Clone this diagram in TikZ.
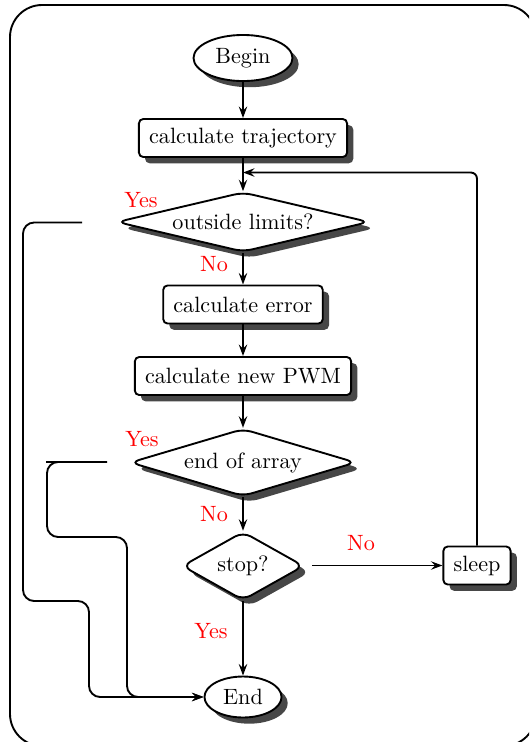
\documentclass[tikz,border=0pt]{standalone}
\usetikzlibrary{shapes.geometric,shadows,arrows.meta}
\begin{document}
\begin{tikzpicture}[x=0.4515pt,y=-0.4515pt,
  line width=0.85pt,
  >={Stealth[length=5.2pt,width=3.8pt,inset=1.9pt]},
  dropsh/.style={drop shadow={shadow xshift=2.8pt,shadow yshift=-2.8pt,fill=black!72,opacity=1}},
  terminal/.style={ellipse,draw,fill=white,dropsh,inner sep=0pt},
  process/.style={rectangle,draw,fill=white,rounded corners=2pt,dropsh,inner xsep=4.6pt,inner ysep=0pt,minimum height=17.2pt},
  decision/.style={diamond,draw,fill=white,rounded corners=4pt,dropsh,inner sep=0pt},
  flow/.style={->},
  answer/.style={text=red},
  elbow/.style={rounded corners=5pt}
]
\useasboundingbox (0,0) rectangle (529,742);
\clip (0,0) rectangle (529,742);

% outer frame
\draw[rounded corners=14.5pt] (10,5) rectangle (536,746);

% nodes
\node[terminal,minimum width=44.7pt,minimum height=20.8pt] (begin) at (243,58) {Begin};
\node[process] (traj) at (243,138) {calculate trajectory};
\node[decision,aspect=4.4,minimum width=114pt,minimum height=27pt] (outlim) at (243,222) {outside limits?};
\node[process] (calcerr) at (243,304.5) {calculate error};
\node[process] (pwm) at (243,376) {calculate new PWM};
\node[decision,aspect=3.4,minimum width=102pt,minimum height=30.5pt] (eoa) at (243,462.5) {end of array};
\node[decision,aspect=1.77,minimum width=55pt,minimum height=31pt] (stop) at (243,566) {stop?};
\node[process] (sleep) at (477,565.5) {sleep};
\node[terminal,minimum width=34.8pt,minimum height=18.5pt] (end) at (243,697) {End};

% branch labels
\node[answer] (limyes) at (141,200) {Yes};
\node[answer] (limno) at (214,264) {No};
\node[answer] (arryes) at (142,439) {Yes};
\node[answer] (arrno) at (214,514) {No};
\node[answer] (stopno) at (361,543) {No};
\node[answer] (stopyes) at (211,631) {Yes};

% main flow
\draw[flow] (begin) -- (traj);
\draw[flow] (traj) -- (outlim);
\draw[flow] (outlim) -- (calcerr);
\draw[flow] (calcerr) -- (pwm);
\draw[flow] (pwm) -- (eoa);
\draw[flow] (eoa) -- (stop);
\draw[flow] (stop) -- (end);

% sleep loop
\coordinate (stopout) at (312,565.5);
\draw[flow] (stopout) -- (sleep.west);
\coordinate (loopin) at (243,172.5);
\draw[flow,rounded corners=2.8pt] (sleep.north) |- (loopin);

% exits to End
\coordinate (limout) at (82,222.5);
\draw[flow,elbow] (limout) -- (23,222.5) -- (23,601) -- (89,601) -- (89,697) -- (end.west);
\coordinate (arrout) at (107,462);
\draw (arrout) -- (45.5,462);
\draw[flow,elbow] (arrout) -- (47,462) -- (47,537) -- (127,537) -- (127,697) -- (end.west);
\end{tikzpicture}
\end{document}
